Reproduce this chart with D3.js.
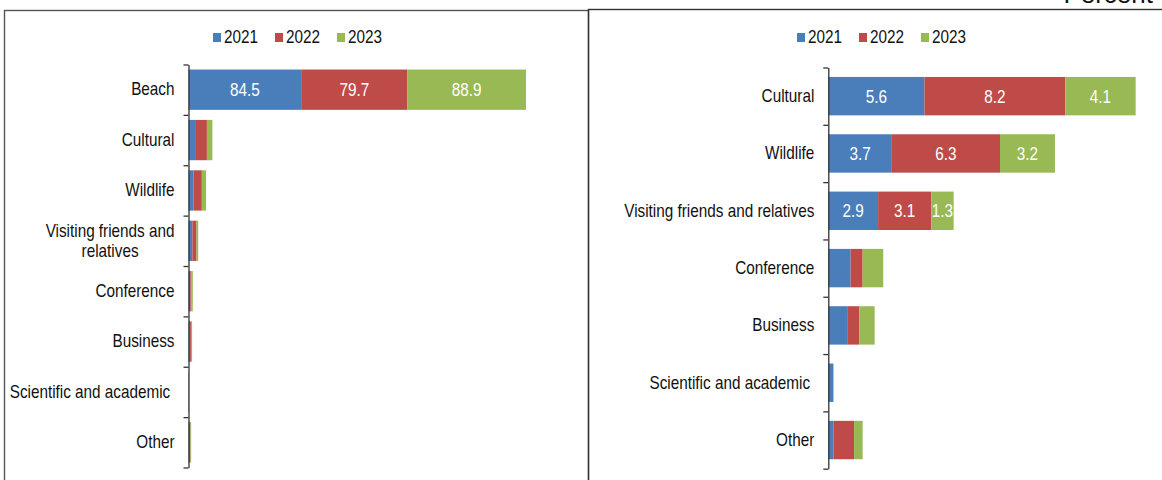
<!DOCTYPE html>
<html>
<head>
<meta charset="utf-8">
<script src="https://cdn.jsdelivr.net/npm/d3@7"></script>
<style>
  body { margin: 0; background: #fff; }
  text { font-family: "Liberation Sans", Arial, sans-serif; font-size: 18px; fill: #111; white-space: pre; }
</style>
</head>
<body>
<svg id="chart" width="1162" height="480"></svg>
<script>
// data
var categories = ["Beach", "Cultural", "Wildlife", "Visiting friends and relatives",
    "Conference", "Business", "Scientific and academic ", "Other"];
var years = ["2021", "2022", "2023"];
var v2021 = [84.5, 5.6, 3.7, 2.9, 1.3, 1.1, 0.3, 0.3];
var v2022 = [79.7, 8.2, 6.3, 3.1, 0.7, 0.7, 0.0, 1.2];
var v2023 = [88.9, 4.1, 3.2, 1.3, 1.2, 0.9, 0.0, 0.5];
var labelledLeft = ["Beach"];
var labelledRight = ["Cultural", "Wildlife", "Visiting friends and relatives"];
var leftWrap = { "Visiting friends and relatives": ["Visiting friends and", "relatives"] };
var colors = ["#4A7EBB", "#BE4B48", "#98B954"];

var SX = 0.85; // narrow look of the original font
var svg = d3.select("#chart");

var rows = categories.map(function (c, i) {
    return { cat: c, "2021": v2021[i], "2022": v2022[i], "2023": v2023[i] };
});

// panel frames
svg.append("rect")
    .attr("x", 4.5).attr("y", 10.5).attr("width", 584).attr("height", 500)
    .style("fill", "none").style("stroke", "#555").style("stroke-width", 1.4);
svg.append("rect")
    .attr("x", 588.5).attr("y", 9.5).attr("width", 600).attr("height", 500)
    .style("fill", "none").style("stroke", "#333").style("stroke-width", 1.4);

svg.append("text")
    .attr("transform", "translate(1153,3)")
    .attr("text-anchor", "end")
    .style("font-size", "26px")
    .text("Percent");

function drawPanel(opts) {
    var data = rows.filter(function (r) { return opts.cats.indexOf(r.cat) >= 0; });
    var x = d3.scaleLinear().domain(opts.xDomain).range(opts.xRange);
    var y = d3.scaleBand().domain(opts.cats).range(opts.yRange)
        .paddingInner(opts.padIn).paddingOuter(opts.padIn / 2);
    var series = d3.stack().keys(years)(data);
    var g = svg.append("g");

    // legend
    var leg = g.selectAll("g.leg").data(years).enter().append("g")
        .attr("class", "leg")
        .attr("transform", function (d, i) { return "translate(" + (opts.legendX + i * 62) + ",0)"; });
    leg.append("rect")
        .attr("x", 0).attr("y", 33).attr("width", 8).attr("height", 9)
        .style("fill", function (d, i) { return colors[i]; });
    leg.append("text")
        .attr("transform", "translate(11,43) scale(" + SX + ",1)")
        .text(function (d) { return d; });

    // bars
    var layers = g.selectAll("g.layer").data(series).enter().append("g")
        .attr("class", "layer")
        .style("fill", function (d, i) { return colors[i]; });
    layers.selectAll("rect")
        .data(function (d) { return d; })
        .enter()
        .append("rect")
        .attr("x", function (d) { return x(d[0]); })
        .attr("y", function (d) { return y(d.data.cat); })
        .attr("width", function (d) { return x(d[1]) - x(d[0]); })
        .attr("height", y.bandwidth());

    // value labels
    layers.selectAll("text")
        .data(function (d) {
            return d.filter(function (p) { return opts.labelled.indexOf(p.data.cat) >= 0; });
        })
        .enter()
        .append("text")
        .attr("transform", function (d) {
            return "translate(" + (x(d[0]) + x(d[1])) / 2 + "," + (y(d.data.cat) + y.bandwidth() / 2) + ") scale(" + SX + ",1)";
        })
        .attr("dy", "0.36em")
        .attr("text-anchor", "middle")
        .style("fill", "#fff")
        .text(function (d) { return d3.format(".1f")(d[1] - d[0]); });

    // axis line with ticks between categories
    var n = opts.cats.length;
    var edges = d3.scaleLinear().domain([0, n]).range(opts.yRange);
    var axisG = g.append("g")
        .attr("transform", "translate(" + opts.xRange[0] + ",0)")
        .call(d3.axisLeft(edges).tickValues(d3.range(n + 1)).tickFormat("").tickSize(5).tickSizeOuter(0));
    axisG.selectAll("path, line").style("stroke", "#333").style("stroke-width", 1.3);

    // category labels
    var labG = g.append("g")
        .attr("transform", "translate(" + opts.xRange[0] + ",0)")
        .call(d3.axisLeft(y).tickSize(0).tickPadding(14));
    labG.select(".domain").remove();
    labG.selectAll("text")
        .attr("font-family", null).attr("font-size", null)
        .attr("x", -14 / SX)
        .attr("transform", "scale(" + SX + ",1)")
        .each(function (d) {
            var lines = opts.wrap[d];
            if (!lines) return;
            var t = d3.select(this).text(null).attr("dy", null).attr("text-anchor", "middle");
            lines.forEach(function (s, i) {
                t.append("tspan").attr("y", (i - (lines.length - 1) / 2) * 20).attr("dy", "0.32em").text(s);
            });
            var w = this.getComputedTextLength ? d3.max(t.selectAll("tspan").nodes(), function (nd) { return nd.getComputedTextLength(); }) : 0;
            t.selectAll("tspan").attr("x", -14 / SX - w / 2);
        });
}

drawPanel({
    cats: categories,
    xDomain: [0, 300], xRange: [188.5, 588.5],
    yRange: [64.5, 467.5], padIn: 0.2,
    labelled: labelledLeft, wrap: leftWrap,
    legendX: 213
});

drawPanel({
    cats: categories.slice(1),
    xDomain: [0, 20], xRange: [828.3, 1171.7],
    yRange: [67.5, 468.7], padIn: 0.33,
    labelled: labelledRight, wrap: {},
    legendX: 797
});
</script>
</body>
</html>
